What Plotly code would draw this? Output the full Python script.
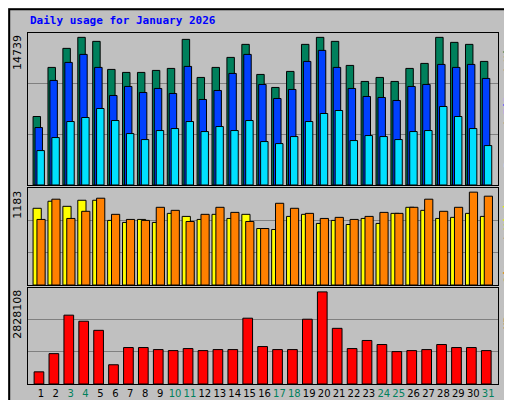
import plotly.graph_objects as go
from plotly.subplots import make_subplots

days = list(range(1, 32))
weekend = [3, 4, 10, 11, 17, 18, 24, 25, 31]
hits = [6640,11402,13248,14317,13928,11207,10916,10916,11110,11304,14122,10430,11402,12373,13636,10721,9458,11013,13636,14317,13928,11596,10041,10430,10041,11304,11790,14317,13831,13636,11984]
files = [5571,10138,11887,12664,11401,8681,9555,8972,9361,8875,11498,8292,9166,10818,12664,9749,8389,9264,11984,13053,11401,9361,8583,8486,8195,9555,9749,11693,11401,11693,10332]
pages = [3336,4599,6154,6543,7417,6251,4988,4405,5280,5474,6154,5182,5668,5280,6251,4211,4016,4697,6154,6931,7223,4308,4794,4697,4405,5182,5280,7612,6640,5474,3822]
sites = [937,1023,961,1035,1035,789,764,801,764,875,838,801,863,813,863,690,678,838,863,752,789,739,813,752,875,949,912,813,826,875,838]
visits = [801,1048,813,900,1060,863,801,789,949,912,776,863,949,887,776,690,998,937,875,813,826,801,838,887,875,949,1048,900,949,1134,1085]
kbytes = [357000,893000,2024000,1846000,1578000,566000,1072000,1072000,1012000,982000,1042000,982000,1012000,1012000,1935000,1101000,1012000,1012000,1905000,2709000,1637000,1042000,1280000,1161000,953000,982000,1012000,1161000,1072000,1072000,982000]
max_hits, max_sites, max_kb = 14739, 1183, 2828108

fig = make_subplots(rows=3, cols=1, shared_xaxes=True)
def bar(y, color, off, w, row):
    fig.add_trace(go.Bar(x=days, y=y, marker_color=color, offset=off, width=w,
                         marker_line=dict(color='black', width=1)), row=row, col=1)
bar(hits, '#00805c', -0.52, 0.5, 1)
bar(files, '#0040ff', -0.39, 0.5, 1)
bar(pages, '#00e0ff', -0.26, 0.5, 1)
bar(sites, '#ffff00', -0.52, 0.55, 2)
bar(visits, '#ff8000', -0.26, 0.55, 2)
bar(kbytes, '#ff0000', -0.45, 0.65, 3)

mono = "DejaVu Sans Mono"
fig.update_layout(
    width=512, height=400, barmode='overlay', showlegend=False,
    paper_bgcolor='#c0c0c0', plot_bgcolor='#c0c0c0',
    margin=dict(l=20, r=22, t=25, b=24, autoexpand=False),
    font=dict(family=mono, size=11, color='black'),
    yaxis=dict(domain=[0.567, 1.0]), yaxis2=dict(domain=[0.282, 0.558]),
    yaxis3=dict(domain=[0.0, 0.274]),
)
for i, m in enumerate([max_hits, max_sites, max_kb], start=1):
    fig.update_yaxes(row=i, col=1, range=[0, m], tickvals=[m/3, 2*m/3], showticklabels=False,
                     showgrid=True, gridcolor='#808080', gridwidth=1, zeroline=False,
                     showline=True, linecolor='black', mirror=True, ticks='')
fig.update_xaxes(range=[0.14, 31.66], showgrid=False, zeroline=False, showline=True,
                 linecolor='black', mirror=True, ticks='', tickvals=days, tickangle=0)
fig.update_xaxes(row=3, col=1, tickvals=days, tickangle=0, automargin=False, ticktext=[
    f"<span style='color:#00805c'>{d}</span>" if d in weekend else str(d) for d in days],
    tickfont=dict(family="DejaVu Sans", size=10))

fig.add_annotation(text="<b>Daily usage for January 2026</b>", xref='paper', yref='paper',
                   x=0.0, y=1.0, yshift=13, xanchor='left', yanchor='middle', showarrow=False,
                   font=dict(family=mono, size=11, color='#0000ff'))
for val, ytop in [(max_hits, 1.0), (max_sites, 0.558), (max_kb, 0.274)]:
    fig.add_annotation(text=str(val), xref='paper', yref='paper', x=0, xshift=-2, y=ytop,
                       xanchor='right', yanchor='top', textangle=-90, showarrow=False,
                       font=dict(family="DejaVu Sans", size=11, color='black'))
labels = [
    ("<span style='color:#00e0ff'>Pages</span> / <span style='color:#0040ff'>Files</span> / <span style='color:#00805c'>Hits</span>", 1.0),
    ("<span style='color:#ff8000'>Sites</span> / <span style='color:#ffff00'>Visits</span>", 0.558),
    ("<span style='color:#ff0000'>KBytes</span>", 0.274),
]
for t, ytop in labels:
    fig.add_annotation(text="<b>" + t + "</b>", xref='paper', yref='paper', x=1, xshift=2, y=ytop,
                       xanchor='left', yanchor='top', textangle=-90, showarrow=False,
                       font=dict(family=mono, size=11, color='black'))
fig.add_shape(type='rect', xref='paper', yref='paper', x0=-0.04, x1=1.04, y0=-0.065, y1=1.068,
              line=dict(color='black', width=2), fillcolor='rgba(0,0,0,0)', layer='below')
fig.write_html("out.html")
